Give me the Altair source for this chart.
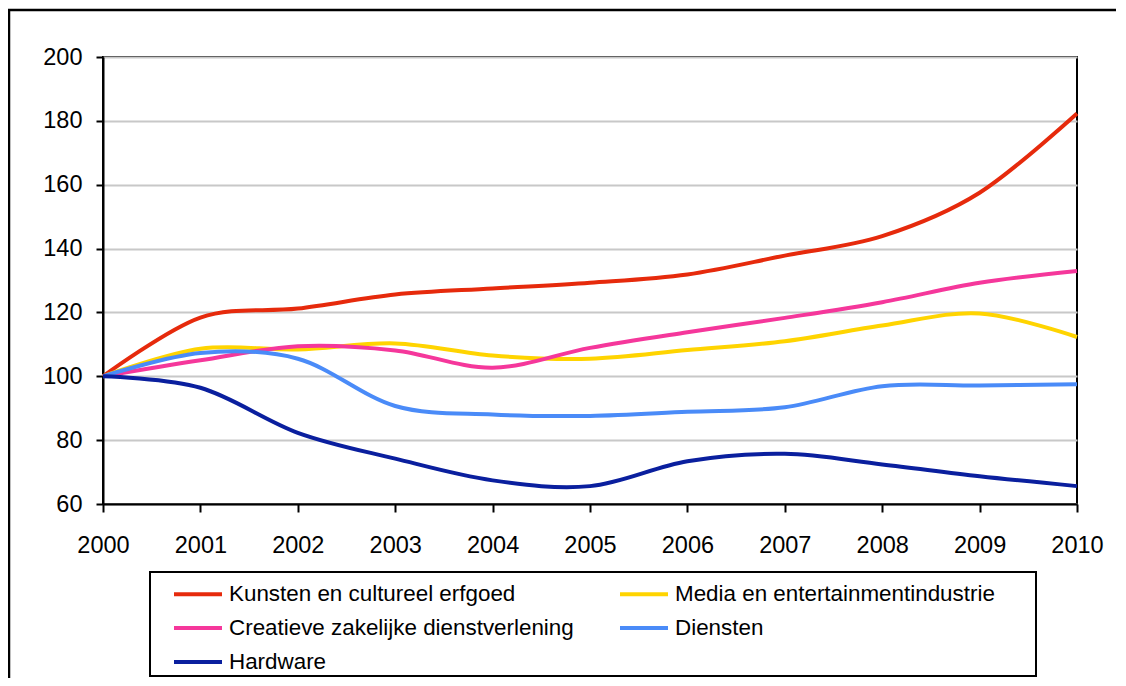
import altair as alt
import pandas as pd

years = [2000, 2001, 2002, 2003, 2004, 2005, 2006, 2007, 2008, 2009, 2010]
series_names = [
    "Kunsten en cultureel erfgoed",
    "Media en entertainmentindustrie",
    "Creatieve zakelijke dienstverlening",
    "Diensten",
    "Hardware",
]
kunsten = [100, 118.4, 121.2, 125.6, 127.5, 129.3, 131.9, 137.8, 143.9, 157.5, 182.3]
media = [100, 108.6, 108.4, 110.3, 106.5, 105.5, 108.2, 111.0, 115.9, 119.7, 112.3]
creatieve = [100, 105.0, 109.4, 108.1, 102.7, 108.9, 113.8, 118.3, 123.2, 129.3, 133.0]
diensten = [100, 107.3, 105.5, 90.7, 88.0, 87.6, 88.9, 90.3, 96.9, 97.1, 97.5]
hardware = [100, 96.4, 82.3, 74.2, 67.4, 65.6, 73.4, 75.7, 72.4, 68.7, 65.6]
colors = ["#E62A0C", "#FFD400", "#F5379B", "#4A8BF8", "#0A1F9E"]
y_ticks = [60, 80, 100, 120, 140, 160, 180, 200]

all_values = [kunsten, media, creatieve, diensten, hardware]
rows = []
for name, vals in zip(series_names, all_values):
    for yr, v in zip(years, vals):
        rows.append({"jaar": yr, "index": v, "reeks": name})
df = pd.DataFrame(rows)

# Legend grid is filled column by column (3 rows, 2 columns):
# reorder so it reads row by row like the reference.
legend_order = [0, 2, 4, 1, 3]
dom = [series_names[i] for i in legend_order]
rng = [colors[i] for i in legend_order]

FONT = "Liberation Sans"

lines = alt.Chart(df).mark_line(strokeWidth=4, interpolate="cardinal").encode(
    x=alt.X("jaar:Q", scale=alt.Scale(domain=[2000, 2010], nice=False, zero=False),
            axis=alt.Axis(values=years, format="d", title=None, grid=False,
                          domainColor="black", domainWidth=2, tickColor="black",
                          tickWidth=2, tickSize=8, labelFontSize=23.5, labelFont=FONT,
                          labelColor="black", labelPadding=21, labelFlush=False)),
    y=alt.Y("index:Q", scale=alt.Scale(domain=[60, 200], nice=False, zero=False),
            axis=alt.Axis(values=y_ticks, title=None, grid=True, gridColor="#c8c8c8",
                          gridWidth=2, domainColor="black", domainWidth=2,
                          tickColor="black", tickWidth=2, tickSize=7, labelFontSize=23.5,
                          labelFont=FONT, labelColor="black", labelPadding=14)),
    color=alt.Color("reeks:N", sort=dom,
                    scale=alt.Scale(domain=dom, range=rng),
                    legend=alt.Legend(title=None, orient="none", legendX=73, legendY=515,
                                      columns=2, columnPadding=38, rowPadding=0,
                                      symbolType="M-1.2,0H1.2", symbolSize=1600,
                                      symbolStrokeWidth=4, labelFontSize=22.4,
                                      labelFont=FONT, labelColor="black", labelOffset=9,
                                      padding=0, labelLimit=500)),
)

one = alt.Data(values=[{"a": 1}])
frame = alt.Chart(one).mark_rect(fill=None, stroke="black", strokeWidth=2.5).encode(
    x=alt.value(-94), x2=alt.value(1300), y=alt.value(-47), y2=alt.value(800)
)
legend_box = alt.Chart(one).mark_rect(fill=None, stroke="black", strokeWidth=2).encode(
    x=alt.value(47), x2=alt.value(933), y=alt.value(515), y2=alt.value(619)
)

chart = alt.layer(frame, legend_box, lines).properties(
    width=974, height=447,
    autosize=alt.AutoSizeParams(type="none"),
    padding={"left": 95, "top": 49, "right": 39, "bottom": 174},
    background="white",
).configure_view(stroke="black", strokeWidth=2)

chart.save("out.html", embed_options={"renderer": "svg", "actions": False})
